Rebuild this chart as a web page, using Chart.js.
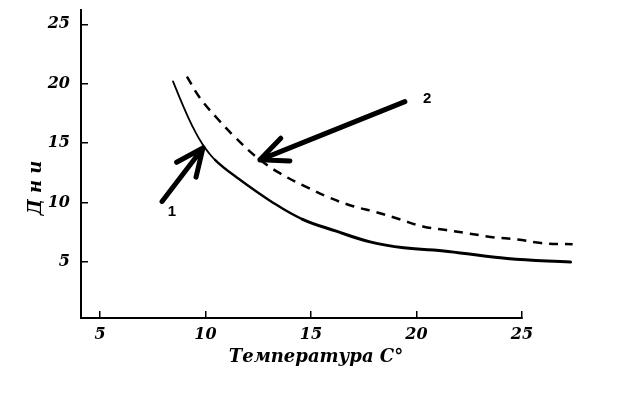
<!DOCTYPE html>
<html lang="ru">
<head>
    <meta charset="UTF-8">
    <title>Дни / Температура</title>
    <script src="https://cdn.jsdelivr.net/npm/chart.js"></script>
    <style>
        body {
            margin: 0;
            background-color: #ffffff;
        }
        #chartCanvas {
            display: block;
        }
    </style>
</head>
<body>
    <canvas id="chartCanvas" width="643" height="412"></canvas>

    <script>
        // values (temperature °C -> days)
        const temp1 = [8.46, 8.9, 9.36, 9.83, 10.45, 11.5, 13.2, 14.6, 16.2, 17.8, 19.4, 21.5, 24.3, 27.3];
        const days1 = [20.2, 18.3, 16.5, 15.0, 13.6, 12.1, 10.0, 8.6, 7.6, 6.7, 6.2, 5.9, 5.3, 5.0];
        const temp2 = [9.12, 9.74, 10.55, 11.4, 12.44, 13.5, 14.8, 15.9, 17.0, 18.1, 19.2, 20.3, 21.4, 22.5, 23.6, 24.8, 25.9, 27.4];
        const days2 = [20.6, 18.8, 17.1, 15.5, 13.8, 12.5, 11.3, 10.4, 9.7, 9.2, 8.6, 8.0, 7.7, 7.4, 7.1, 6.9, 6.6, 6.5];
        const xTicks = [5, 10, 15, 20, 25];
        const yTicks = [5, 10, 15, 20, 25];
        const xRange = [4.1, 25];
        const yRange = [0.3, 26.2];

        // arrows pointing at the curves: tail, tip and label, in data units
        const arrowNames = ['1', '2'];
        const arrowTails = [[7.94, 10.1], [19.45, 18.5]];
        const arrowTips = [[9.88, 14.6], [12.58, 13.6]];
        const arrowLabels = [[8.41, 9.2], [20.5, 18.7]];

        const tickFont = { family: 'DejaVu Serif', style: 'italic', weight: 'bold', size: 16 };

        const annotations = {
            id: 'annotations',
            afterDraw(chart) {
                const ctx = chart.ctx;
                const xs = chart.scales.x;
                const ys = chart.scales.y;
                const area = chart.chartArea;

                ctx.save();
                ctx.strokeStyle = '#000';
                ctx.fillStyle = '#000';
                ctx.lineCap = 'round';
                ctx.lineWidth = 5;
                arrowNames.forEach((name, i) => {
                    const x0 = xs.getPixelForValue(arrowTails[i][0]);
                    const y0 = ys.getPixelForValue(arrowTails[i][1]);
                    const x1 = xs.getPixelForValue(arrowTips[i][0]);
                    const y1 = ys.getPixelForValue(arrowTips[i][1]);
                    const ang = Math.atan2(y0 - y1, x0 - x1);
                    ctx.beginPath();
                    ctx.moveTo(x0, y0);
                    ctx.lineTo(x1, y1);
                    [-0.42, 0.42].forEach(d => {
                        ctx.moveTo(x1, y1);
                        ctx.lineTo(x1 + 30 * Math.cos(ang + d), y1 + 30 * Math.sin(ang + d));
                    });
                    ctx.stroke();

                    ctx.font = 'bold 15px "Liberation Sans"';
                    ctx.textAlign = 'center';
                    ctx.textBaseline = 'middle';
                    ctx.fillText(name, xs.getPixelForValue(arrowLabels[i][0]), ys.getPixelForValue(arrowLabels[i][1]));
                });

                // axis titles
                ctx.font = 'italic bold 18px "DejaVu Serif"';
                ctx.textAlign = 'center';
                ctx.textBaseline = 'middle';
                ctx.fillText('Температура С°', area.left + 235, area.bottom + 39);
                ctx.translate(36, 188);
                ctx.rotate(-Math.PI / 2);
                ctx.fillText('Д н и', 0, 0);
                ctx.restore();
            }
        };

        new Chart(document.getElementById('chartCanvas'), {
            type: 'line',
            data: {
                datasets: [{
                    label: '1',
                    data: temp1.map((t, i) => ({ x: t, y: days1[i] })),
                    borderColor: '#000',
                    borderWidth: 2.5,
                    borderCapStyle: 'round',
                    segment: {
                        // the scanned line gets heavier towards the right
                        borderWidth: c => c.p0.parsed.x < 10 ? 1.8 : (c.p0.parsed.x < 14 ? 2.4 : 3)
                    },
                    pointRadius: 0,
                    tension: 0.4,
                    clip: false
                }, {
                    label: '2',
                    data: temp2.map((t, i) => ({ x: t, y: days2[i] })),
                    borderColor: '#000',
                    borderWidth: 2.5,
                    borderDash: [9, 7],
                    pointRadius: 0,
                    tension: 0.4,
                    clip: false
                }]
            },
            options: {
                responsive: false,
                animation: false,
                layout: { padding: { top: 10, right: 121, left: 0, bottom: 0 } },
                plugins: {
                    legend: { display: false },
                    tooltip: { enabled: false }
                },
                scales: {
                    x: {
                        type: 'linear',
                        bounds: 'data',
                        afterDataLimits: s => { s.min = xRange[0]; s.max = xRange[1]; },
                        afterBuildTicks: s => { s.ticks = xTicks.map(v => ({ value: v })); },
                        afterFit: s => { s.height = 94; s.paddingLeft = 0; s.paddingRight = 0; },
                        border: { color: '#000', width: 2 },
                        grid: { drawOnChartArea: false, tickLength: -7, color: '#000', lineWidth: 1.5 },
                        ticks: { color: '#000', font: tickFont, padding: 14, maxRotation: 0 }
                    },
                    y: {
                        type: 'linear',
                        bounds: 'data',
                        afterDataLimits: s => { s.min = yRange[0]; s.max = yRange[1]; },
                        afterBuildTicks: s => { s.ticks = yTicks.map(v => ({ value: v })); },
                        afterFit: s => { s.width = 81; s.paddingTop = 0; s.paddingBottom = 0; },
                        border: { color: '#000', width: 2 },
                        grid: { drawOnChartArea: false, tickLength: -7, color: '#000', lineWidth: 1.5 },
                        ticks: { color: '#000', font: tickFont, padding: 18 }
                    }
                }
            },
            plugins: [annotations]
        });
    </script>
</body>
</html>
